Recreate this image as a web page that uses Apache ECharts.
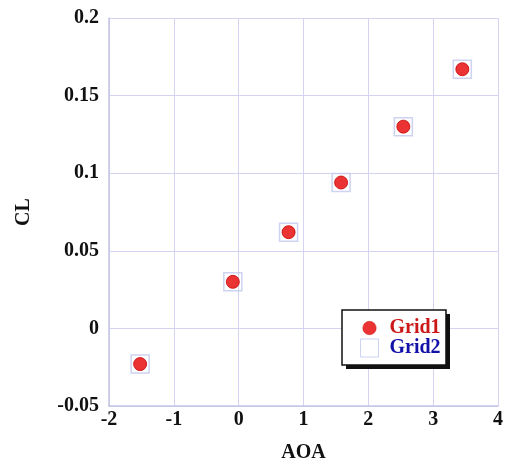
<!DOCTYPE html>
<html>
<head>
<meta charset="utf-8">
<script src="https://cdn.jsdelivr.net/npm/echarts@6/dist/echarts.min.js"></script>
<style>
  html, body { margin: 0; padding: 0; background: #fff; }
  #chart { width: 508px; height: 468px; }
</style>
</head>
<body>
<div id="chart"></div>
<script>
// Lift coefficient versus angle of attack on two grids
const aoa = [-1.52, -0.09, 0.77, 1.58, 2.54, 3.45];
const clGrid1 = [-0.023, 0.030, 0.062, 0.094, 0.130, 0.167];
const clGrid2 = [-0.023, 0.030, 0.062, 0.094, 0.130, 0.167];
const xTicks = [-2, -1, 0, 1, 2, 3, 4];
const yTicks = [-0.05, 0, 0.05, 0.1, 0.15, 0.2];

const pairs = (xs, ys) => xs.map((x, i) => [x, ys[i]]);
const serif = 'Liberation Serif, Times New Roman, serif';
const gridColor = '#d4d4f2';
const labelFont = { fontFamily: serif, fontWeight: 'bold', fontSize: 20, color: '#111' };

// Legend frame: white box with a hard drop shadow
const legendBox = { x: 342, y: 310, w: 104, h: 55 };

// Circle icon padded inside a square so it draws a bit smaller than the square icon
const smallCircle = 'path://M0,0 M20,20 M10,2.5 A7.5,7.5 0 1 1 9.99,2.5 Z';

const chart = echarts.init(document.getElementById('chart'), null, { renderer: 'canvas' });
chart.setOption({
  backgroundColor: '#fff',
  animation: false,
  grid: { left: 109, right: 10, top: 18, bottom: 60, containLabel: false },
  xAxis: {
    type: 'value',
    min: xTicks[0], max: xTicks[xTicks.length - 1], interval: 1,
    name: 'AOA', nameLocation: 'middle', nameGap: 37,
    nameTextStyle: labelFont,
    axisLine: { show: true, onZero: false, lineStyle: { color: '#c4c4e6', width: 1.5 } },
    axisTick: { show: false },
    axisLabel: Object.assign({ margin: 4, formatter: v => String(v) }, labelFont),
    splitLine: { show: true, lineStyle: { color: gridColor, width: 1 } }
  },
  yAxis: {
    type: 'value',
    min: yTicks[0], max: yTicks[yTicks.length - 1], interval: 0.05,
    name: 'CL', nameLocation: 'middle', nameGap: 75, nameRotate: 90,
    nameTextStyle: labelFont,
    axisLine: { show: true, onZero: false, lineStyle: { color: '#c4c4e6', width: 1.5 } },
    axisTick: { show: false },
    axisLabel: Object.assign({ margin: 10, formatter: v => String(Math.round(v * 100) / 100) }, labelFont),
    splitLine: { show: true, lineStyle: { color: gridColor, width: 1 } }
  },
  graphic: [
    { type: 'rect', z: 90, silent: true,
      shape: { x: legendBox.x + 4, y: legendBox.y + 4, width: legendBox.w, height: legendBox.h },
      style: { fill: '#111' } },
    { type: 'rect', z: 91, silent: true,
      shape: { x: legendBox.x, y: legendBox.y, width: legendBox.w, height: legendBox.h },
      style: { fill: '#fff', stroke: '#111', lineWidth: 1.5 } }
  ],
  legend: {
    z: 100,
    orient: 'vertical',
    left: 360, top: 318,
    padding: 0,
    itemGap: 0,
    itemWidth: 18, itemHeight: 18,
    backgroundColor: 'transparent',
    textStyle: { fontFamily: serif, fontWeight: 'bold', fontSize: 20, lineHeight: 20, padding: [0, 0, 0, 6] },
    data: [
      { name: 'Grid1', icon: smallCircle, itemStyle: { color: '#e60000', borderColor: '#c80000', borderWidth: 0.5 }, textStyle: { color: '#cc1818' } },
      { name: 'Grid2', icon: 'rect', itemStyle: { color: '#fff', borderColor: '#c0c8ee', borderWidth: 1 }, textStyle: { color: '#1212a8' } }
    ]
  },
  series: [
    {
      name: 'Grid2', type: 'scatter', z: 2,
      data: pairs(aoa, clGrid2),
      symbol: 'rect', symbolSize: 18,
      itemStyle: { color: 'rgba(255,255,255,0)', borderColor: '#c0c8ee', borderWidth: 1.5 }
    },
    {
      name: 'Grid1', type: 'scatter', z: 3,
      data: pairs(aoa, clGrid1),
      symbol: 'circle', symbolSize: 13,
      itemStyle: { color: '#e60000', borderColor: '#c80000', borderWidth: 1 }
    }
  ]
});
</script>
</body>
</html>
